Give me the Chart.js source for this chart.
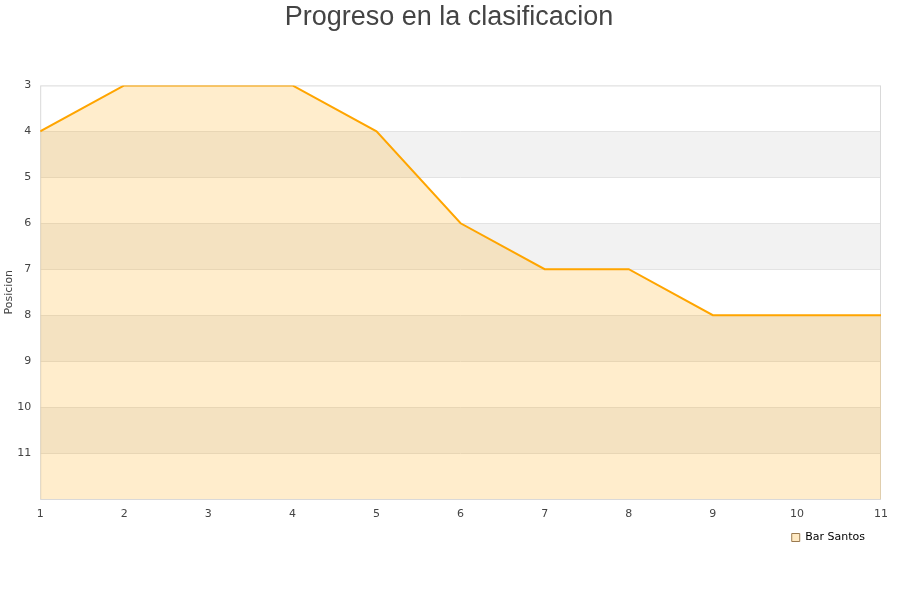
<!DOCTYPE html>
<html>
<head>
<meta charset="utf-8">
<script src="https://cdn.jsdelivr.net/npm/chart.js@4/dist/chart.umd.min.js"></script>
<style>
html,body{margin:0;padding:0;background:#fff;}
#wrap{width:900px;height:600px;position:relative;}
</style>
</head>
<body>
<div id="wrap"><canvas id="c" width="900" height="600"></canvas></div>
<script>
const jornadas = [1,2,3,4,5,6,7,8,9,10,11];
const posiciones = [4,3,3,3,4,6,7,7,8,8,8];
const yTicks = [3,4,5,6,7,8,9,10,11];
const equipo = 'Bar Santos';

const bandPlugin = {
  id: 'bands',
  afterLayout(chart) {
    if (chart.legend) { chart.legend.top -= 8; chart.legend.bottom -= 8; }
  },
  beforeDatasetsDraw(chart) {
    const {ctx, chartArea, scales} = chart;
    const y = scales.y;
    ctx.save();
    ctx.fillStyle = '#f2f2f2';
    for (let v = 4; v < 12; v += 2) {
      const t = y.getPixelForValue(v);
      const b = y.getPixelForValue(v + 1);
      ctx.fillRect(chartArea.left, Math.min(t,b), chartArea.right - chartArea.left, Math.abs(b - t));
    }
    ctx.strokeStyle = '#e3e3e3';
    ctx.lineWidth = 1;
    for (let v = 4; v < 12; v++) {
      const p = Math.round(y.getPixelForValue(v)) + 0.5;
      ctx.beginPath(); ctx.moveTo(chartArea.left, p); ctx.lineTo(chartArea.right, p); ctx.stroke();
    }
    ctx.strokeStyle = '#d9d9d9';
    ctx.strokeRect(chartArea.left + 0.5, chartArea.top + 0.5, chartArea.right - chartArea.left - 1, chartArea.bottom - chartArea.top);
    ctx.restore();
  }
};

new Chart(document.getElementById('c'), {
  type: 'line',
  data: {
    labels: jornadas,
    datasets: [{
      label: equipo,
      data: posiciones,
      borderColor: '#FFA500',
      backgroundColor: 'rgba(255,165,0,0.2)',
      borderWidth: 2,
      pointRadius: 0,
      tension: 0,
      fill: { value: 12 }
    }]
  },
  options: {
    responsive: false,
    animation: false,
    layout: { padding: { left: 17, right: 19, top: 0, bottom: 39 } },
    plugins: {
      title: {
        display: true,
        text: 'Progreso en la clasificacion',
        color: '#444',
        font: { family: 'Liberation Sans', size: 27, weight: 'normal' },
        padding: { top: 1, bottom: 52 }
      },
      legend: {
        position: 'bottom',
        align: 'end',
        labels: {
          boxWidth: 8, boxHeight: 8,
          color: '#000',
          font: { family: 'DejaVu Sans', size: 11 },
          padding: 16,
          generateLabels(chart) {
            return [{ text: equipo, fillStyle: '#ffe9c2', strokeStyle: '#9a7a50', lineWidth: 1, datasetIndex: 0 }];
          }
        }
      },
      tooltip: { enabled: false }
    },
    scales: {
      x: {
        type: 'linear',
        min: 1, max: 11,
        grid: { display: false, drawTicks: false },
        border: { display: false },
        afterFit(axis) { axis.height = 25; },
        ticks: { stepSize: 1, color: '#444', font: { family: 'DejaVu Sans', size: 11 }, padding: 9, maxRotation: 0 }
      },
      y: {
        reverse: true,
        min: 3, max: 12,
        grid: { display: false, drawTicks: false },
        border: { display: false },
        afterBuildTicks(axis) { axis.ticks = yTicks.map(v => ({ value: v })); },
        ticks: { color: '#444', font: { family: 'DejaVu Sans', size: 11 }, padding: 9 },
        title: { display: true, text: 'Posicion', color: '#444', font: { family: 'DejaVu Sans', size: 11 }, padding: { top: -14, bottom: -8 } }
      }
    }
  },
  plugins: [bandPlugin]
});
</script>
</body>
</html>
